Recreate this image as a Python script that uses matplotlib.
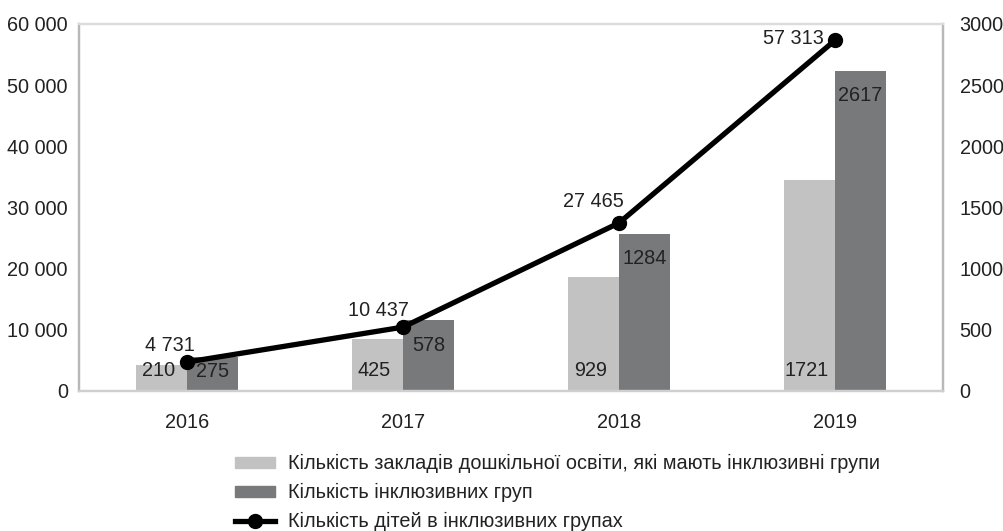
import matplotlib.pyplot as plt
from matplotlib.ticker import FuncFormatter

plt.rcParams["font.family"] = ["Liberation Sans", "DejaVu Sans"]

years = ["2016", "2017", "2018", "2019"]
institutions = [210, 425, 929, 1721]
groups = [275, 578, 1284, 2617]
children = [4731, 10437, 27465, 57313]

light = "#c1c2c1"
dark = "#77797b"
txt = "#222222"
fs = 14.3

fig = plt.figure(figsize=(10.04, 5.31), dpi=100)
ax = fig.add_axes([0.0787, 0.2637, 0.8605, 0.6913])
ax2 = ax.twinx()

x = list(range(len(years)))
w = 0.237
# bars belong to the right axis, the line to the left one
ax2.bar([i - w / 2 for i in x], institutions, w, color=light, zorder=1)
ax2.bar([i + w / 2 for i in x], groups, w, color=dark, zorder=1)

for i, v in enumerate(institutions):
    ax2.annotate(str(v), (i - w / 2, 0), xytext=(-3, 20), textcoords="offset pixels",
                 ha="center", va="center", fontsize=fs, color=txt)
for i, v in enumerate(groups):
    if v < 400:
        ax2.annotate(str(v), (i + w / 2, 0), xytext=(0, 19), textcoords="offset pixels",
                     ha="center", va="center", fontsize=fs, color=txt)
    else:
        ax2.annotate(str(v), (i + w / 2, v), xytext=(0, -25), textcoords="offset pixels",
                     ha="center", va="center", fontsize=fs, color=txt)

ax.set_zorder(ax2.get_zorder() + 1)
ax.patch.set_visible(False)
ax.plot(x, children, color="black", lw=3.8, marker="o", ms=10, zorder=3)

offsets = [(-17, 17), (-25, 17), (-26, 21), (-42, 2)]
for i, v in enumerate(children):
    ax.annotate(f"{v:,}".replace(",", " "), (i, v), xytext=offsets[i],
                textcoords="offset pixels", ha="center", va="center",
                fontsize=fs, color=txt)

ax.set_xlim(-0.5, 3.5)
ax.set_ylim(0, 60000)
ax2.set_ylim(0, 3000)
ax.set_yticks(range(0, 60001, 10000))
ax2.set_yticks(range(0, 3001, 500))
ax.yaxis.set_major_formatter(FuncFormatter(lambda v, p: f"{int(v):,}".replace(",", " ")))
ax.set_xticks(x)
ax.set_xticklabels(years)

ax.tick_params(axis="y", length=0, pad=8, labelsize=fs, labelcolor=txt)
ax.tick_params(axis="x", length=0, pad=16, labelsize=fs, labelcolor=txt)
ax2.tick_params(axis="y", length=0, pad=12, labelsize=fs, labelcolor=txt)

for a in (ax, ax2):
    a.spines["top"].set_color("#dcdcdc")
    a.spines["bottom"].set_color("#cfcfcf")
    a.spines["left"].set_color("#b8b8b8")
    a.spines["right"].set_color("#b8b8b8")
    for s in a.spines.values():
        s.set_linewidth(1.6)

h1 = plt.Rectangle((0, 0), 1, 1, color=light)
h2 = plt.Rectangle((0, 0), 1, 1, color=dark)
h3 = plt.Line2D([], [], color="black", lw=3.8, marker="o", ms=10)
fig.legend([h1, h2, h3],
           ["Кількість закладів дошкільної освіти, які мають інклюзивні групи",
            "Кількість інклюзивних груп",
            "Кількість дітей в інклюзивних групах"],
           loc="upper left", bbox_to_anchor=(0.234, 0.1445), frameon=False,
           fontsize=fs, handlelength=2.0, handleheight=0.45, handletextpad=0.65,
           labelspacing=0.5, borderpad=0, borderaxespad=0, labelcolor=txt)

fig.savefig("out.png", dpi=100)
